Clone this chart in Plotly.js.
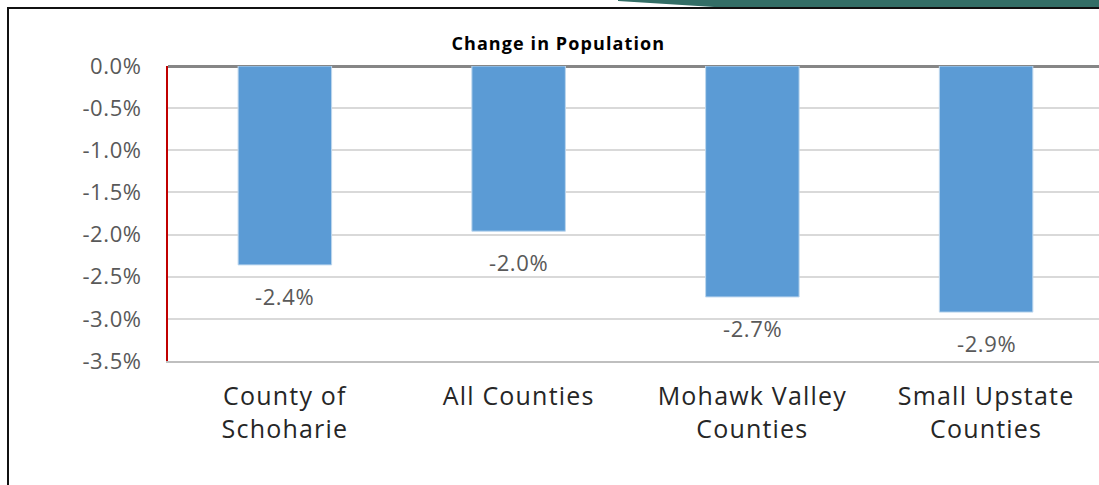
<!DOCTYPE html>
<html>
<head>
<meta charset="utf-8">
<script src="https://cdn.plot.ly/plotly-3.0.1.min.js"></script>
<style>
  html, body { margin: 0; padding: 0; background: #fff; }
  #chart { width: 1099px; height: 485px; position: relative; }
  /* slide frame bits around the chart */
  .frame { position: absolute; left: 7px; top: 7px; width: 1092px; height: 478px;
           border-left: 2px solid #111; border-top: 2px solid #111; pointer-events: none; z-index: 5; }
  .band { position: absolute; left: 618px; top: 0; width: 481px; height: 7px; background: #336e66;
          clip-path: polygon(0 0, 100% 0, 100% 100%, 20% 100%, 0 15%); pointer-events: none; z-index: 5; }
  /* Century Gothic is wide, stretch the fallback a bit */
  .xtick text { letter-spacing: 1.2px; }
  .ytick text, .annotation-text { letter-spacing: 0.6px; }
  .gtitle { letter-spacing: 1.1px; }
</style>
</head>
<body>
<div id="chart"></div>
<div class="band"></div>
<div class="frame"></div>
<script>
document.addEventListener('DOMContentLoaded', () => {
    const chartDiv = document.getElementById('chart');

    // Data
    const categories = ['County of<br>Schoharie', 'All Counties', 'Mohawk Valley<br>Counties', 'Small Upstate<br>Counties'];
    const changePct = [-2.36, -1.96, -2.74, -2.92];
    const yTicks = [0, -0.5, -1.0, -1.5, -2.0, -2.5, -3.0, -3.5];

    const labelFont = 'Century Gothic, "Open Sans", "DejaVu Sans", sans-serif';

    const barTrace = {
        type: 'bar',
        x: categories,
        y: changePct,
        width: 0.4,
        marker: { color: '#5b9bd5', line: { color: '#bdd7ee', width: 1 } },
        hoverinfo: 'x+y'
    };

    // value labels sit a little below each bar end
    const valueLabels = categories.map((c, i) => ({
        x: c,
        y: changePct[i],
        xref: 'x',
        yref: 'y',
        text: changePct[i].toFixed(1) + '%',
        showarrow: false,
        yanchor: 'middle',
        yshift: -31,
        font: { family: labelFont, size: 22, color: '#595959' }
    }));

    const layout = {
        width: 1099,
        height: 485,
        margin: { l: 168, r: 0, t: 66, b: 124 },
        paper_bgcolor: '#ffffff',
        plot_bgcolor: '#ffffff',
        showlegend: false,
        title: {
            text: '<b>Change in Population</b>',
            xref: 'container', x: 0.508, xanchor: 'center',
            yref: 'container', y: 0.909, yanchor: 'middle',
            font: { family: labelFont, size: 18, color: '#000000' }
        },
        xaxis: {
            type: 'category',
            range: [-0.5, 3.483],
            showgrid: false,
            showline: true,
            linecolor: '#bfbfbf',
            linewidth: 2,
            ticks: '',
            ticklabelstandoff: 12,
            tickfont: { family: labelFont, size: 25, color: '#262626' },
            fixedrange: true
        },
        yaxis: {
            range: [-3.5, 0],
            tickvals: yTicks,
            ticktext: yTicks.map(v => v.toFixed(1) + '%'),
            showgrid: true,
            gridcolor: '#d9d9d9',
            gridwidth: 2,
            zeroline: true,
            zerolinecolor: '#868686',
            zerolinewidth: 3,
            showline: true,
            linecolor: '#c00000',
            linewidth: 2,
            ticks: '',
            ticklabelstandoff: 20,
            tickfont: { family: labelFont, size: 22, color: '#595959' },
            fixedrange: true
        },
        annotations: valueLabels
    };

    Plotly.newPlot(chartDiv, [barTrace], layout, { displayModeBar: false, staticPlot: true });
});
</script>
</body>
</html>
